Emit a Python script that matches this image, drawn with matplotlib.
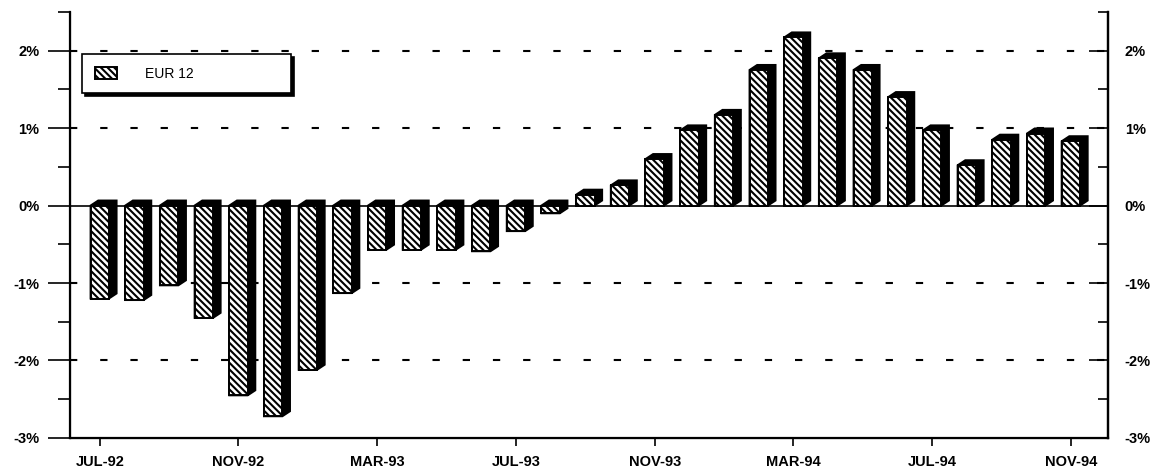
import matplotlib
matplotlib.use("Agg")
import matplotlib.pyplot as plt
from matplotlib.patches import Polygon
from matplotlib.ticker import MultipleLocator, FuncFormatter

months = ["JUL-92", "AUG-92", "SEP-92", "OCT-92", "NOV-92", "DEC-92", "JAN-93", "FEB-93",
          "MAR-93", "APR-93", "MAY-93", "JUN-93", "JUL-93", "AUG-93", "SEP-93", "OCT-93",
          "NOV-93", "DEC-93", "JAN-94", "FEB-94", "MAR-94", "APR-94", "MAY-94", "JUN-94",
          "JUL-94", "AUG-94", "SEP-94", "OCT-94", "NOV-94"]
eur12 = [-1.20, -1.22, -1.03, -1.45, -2.45, -2.72, -2.12, -1.13,
         -0.57, -0.57, -0.57, -0.59, -0.33, -0.10, 0.14, 0.26,
         0.60, 0.97, 1.17, 1.75, 2.17, 1.90, 1.75, 1.40,
         0.97, 0.52, 0.85, 0.93, 0.83]
series_name = "EUR 12"

plt.rcParams["font.family"] = ["Liberation Sans", "DejaVu Sans"]
plt.rcParams["hatch.linewidth"] = 1.5

fig = plt.figure(figsize=(11.58, 4.75), dpi=100)
ax = fig.add_axes([0.0604, 0.078, 0.8964, 0.897])

width = 0.53
dx, dy = 0.22, 0.065
x = list(range(len(eur12)))

# 3d extrusion (side + top) behind each bar
for xi, v in zip(x, eur12):
    x0, x1 = xi - width / 2, xi + width / 2
    top, bot = max(v, 0), min(v, 0)
    ax.add_patch(Polygon([(x0, top), (x0 + dx, top + dy), (x1 + dx, top + dy),
                          (x1 + dx, bot + dy), (x1, bot), (x0, bot)],
                         closed=True, facecolor="black", edgecolor="black", lw=1.4, zorder=3))

bars = ax.bar(x, eur12, width=width, facecolor="white", edgecolor="black",
              hatch="\\\\\\\\\\", linewidth=1.4, zorder=4)

ax.set_xlim(-0.86, len(eur12) - 1 + 1.07)
ax.set_ylim(-3, 2.5)

for g in [2, 1, -1, -2]:
    ax.axhline(g, color="black", lw=1.5, ls=(0, (3.5, 11)), zorder=1)
ax.axhline(0, color="black", lw=1.2, zorder=2)

ax.spines["top"].set_visible(False)
for s in ["left", "right", "bottom"]:
    ax.spines[s].set_linewidth(1.6)

ax.set_xticks(x[::4])
ax.set_xticklabels(months[::4], fontweight="bold", fontsize=10.5)
ax.tick_params(axis="x", direction="out", length=6, width=1.2, pad=6)

pct = FuncFormatter(lambda v, p: f"{v:.0f}%")
ax.yaxis.set_major_locator(MultipleLocator(1))
ax.yaxis.set_minor_locator(MultipleLocator(0.5))
ax.yaxis.set_major_formatter(pct)
ax.tick_params(axis="y", which="major", direction="out", length=16, width=1.2, labelsize=10.5, pad=6)
ax.tick_params(axis="y", which="minor", direction="out", length=9, width=1.2)
for t in ax.get_yticklabels():
    t.set_fontweight("bold")

ax2 = ax.twinx()
ax2.set_ylim(ax.get_ylim())
ax2.spines["top"].set_visible(False)
ax2.spines["right"].set_linewidth(1.6)
ax2.yaxis.set_major_locator(MultipleLocator(1))
ax2.yaxis.set_minor_locator(MultipleLocator(0.5))
ax2.yaxis.set_major_formatter(pct)
ax2.tick_params(axis="y", which="major", direction="in", length=14, width=1.2, labelsize=10.5, pad=12)
ax2.tick_params(axis="y", which="minor", direction="in", length=7, width=1.2)
for t in ax2.get_yticklabels():
    t.set_fontweight("bold")

# legend box with shadow
leg = ax.legend([bars[0]], [series_name], loc="upper left", bbox_to_anchor=(0.012, 0.9),
                fancybox=False, shadow={"color": "black", "alpha": 1}, frameon=True,
                borderpad=0.9, handlelength=1.6, handleheight=1.0, fontsize=10,
                borderaxespad=0, handletextpad=2.0)
leg.get_frame().set_edgecolor("black")
leg.get_frame().set_linewidth(1.2)
leg.set_zorder(6)
for t in leg.get_texts():
    t.set_text(series_name + " " * 22)

fig.savefig("out.png", dpi=100)
